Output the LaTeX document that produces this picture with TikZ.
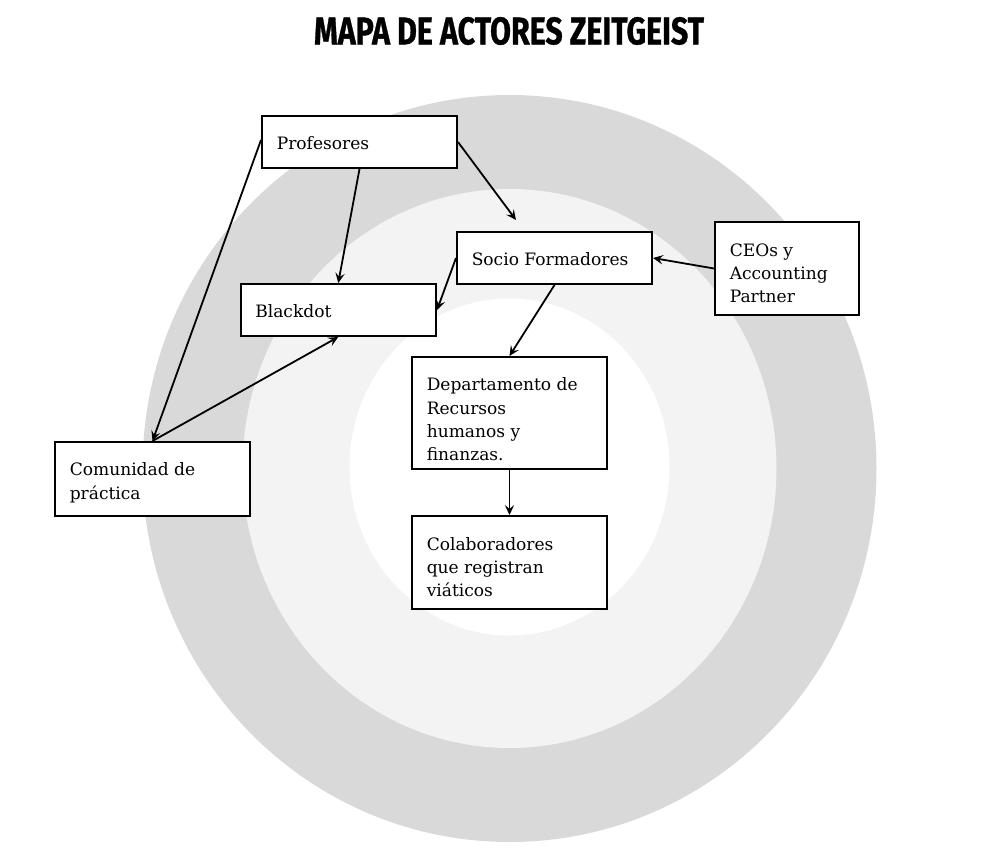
\documentclass[tikz,border=0pt]{standalone}
\usepackage{fontspec}
\setmainfont{DejaVu Serif}
\newfontfamily\titlefont{Fira Sans}[FakeBold=1]
\usetikzlibrary{arrows.meta,fit}
\definecolor{ringouter}{HTML}{D9D9D9}
\definecolor{ringmid}{HTML}{F3F3F3}
\tikzset{
  actorbox/.style={draw=black, fill=white, line width=1.5pt, inner sep=0pt},
  lbl/.style={inner sep=0pt, align=left, anchor=base west,
    font=\fontsize{12.8pt}{17.5pt}\selectfont},
  conn/.style={line width=1.35pt, -{Stealth[length=7.5pt,width=7pt,inset=3pt]}}
}
\begin{document}
\begin{tikzpicture}[x=0.75pt,y=-0.75pt]
\useasboundingbox (0,0) rectangle (1001,859);
% rings
\fill[ringouter] (509.5,468.5) ellipse [x radius=367, y radius=373.5];
\fill[ringmid] (509.5,468.5) ellipse [x radius=267, y radius=279.5];
\fill[white] (509.5,467) ellipse [x radius=160, y radius=168.5];
% title
\node[inner sep=0pt] (title) at (509,31) {\resizebox{292.5pt}{20.5pt}{\titlefont\bfseries MAPA DE ACTORES ZEITGEIST}};
% boxes
\node[actorbox, fit={(262,116) (457,168)}] (prof) {};
\node[actorbox, fit={(457,232) (652,284)}] (socio) {};
\node[actorbox, fit={(240.5,284) (436,336)}] (black) {};
\node[actorbox, fit={(55,442) (250,516)}] (com) {};
\node[actorbox, fit={(715,222) (859,315)}] (ceo) {};
\node[actorbox, fit={(412,357) (607,469)}] (dep) {};
\node[actorbox, fit={(412,516) (607,609)}] (col) {};
% labels (base anchor = baseline of last line)
\node[lbl] (proft) at ([shift={(15.5,35)}]prof.north west) {Profesores};
\node[lbl] (sociot) at ([shift={(15.5,35)}]socio.north west) {Socio Formadores};
\node[lbl] (blackt) at ([shift={(15.5,35)}]black.north west) {Blackdot};
\node[lbl] (comt) at ([shift={(15.5,58.3)}]com.north west) {Comunidad de\\práctica};
\node[lbl] (ceot) at ([shift={(15.5,81.7)}]ceo.north west) {CEOs y\\Accounting\\Partner};
\node[lbl] (dept) at ([shift={(15.5,105)}]dep.north west) {Departamento de\\Recursos\\humanos y\\finanzas.};
\node[lbl] (colt) at ([shift={(15.5,81.7)}]col.north west) {Colaboradores\\que registran\\viáticos};
% free end
\coordinate (pfree) at (516,220);
% connectors
\draw[conn] ([shift={(0,-2)}]prof.west) -- (com.north);
\draw[conn] (com.north) -- (black.south);
\draw[conn] (prof.south) -- (black.north);
\draw[conn] (prof.east) -- (pfree);
\draw[conn] (socio.west) -- (black.east);
\draw[conn] (socio.south) -- (dep.north);
\draw[conn] (ceo.west) -- (socio.east);
\draw[conn] (dep.south) -- (col.north);
\end{tikzpicture}
\end{document}
